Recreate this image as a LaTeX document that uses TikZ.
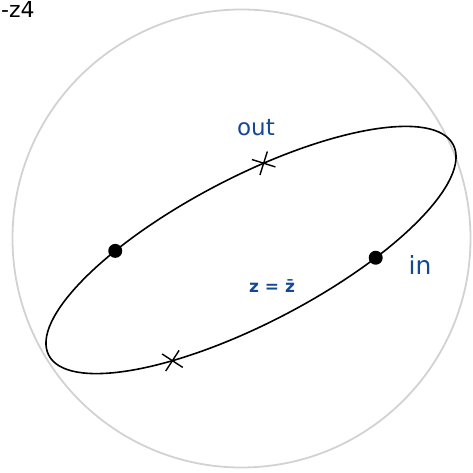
\documentclass[tikz,border=0pt]{standalone}
\usepackage{fontspec}
\setmainfont{DejaVu Sans}
\usetikzlibrary{shapes.misc,calc}
\definecolor{inkblue}{RGB}{20,72,150}
\definecolor{rimgray}{RGB}{210,210,210}
\tikzset{
  rim/.style={draw=rimgray, line width=1.8pt},
  curveline/.style={draw=black, line width=1.6pt},
  dotmark/.style={circle, fill=black, inner sep=0pt, minimum size=14pt},
  crossmark/.style={cross out, draw=black, line width=1.4pt, inner sep=0pt, minimum size=16pt},
  bluelabel/.style={text=inkblue, inner sep=0pt}
}
\begin{document}
\begin{tikzpicture}[x=1pt,y=1pt]
\useasboundingbox (0,0) rectangle (472,473);
\clip (0,0) rectangle (472,473);
% big circle
\node[rim, circle, minimum size=458pt, inner sep=0pt] (disk) at (241.5,234.5) {};
% corner text
\node[anchor=north west, inner sep=1pt, font=\fontsize{22}{22}\selectfont] (corner) at (0,473) {-z4};
% ellipse
\begin{scope}[shift={(251,223)}, rotate=27.5]
  \draw[curveline] (0,0) ellipse [x radius=228, y radius=73];
  \node[dotmark] (pL) at (122:228 and 73) {};
  \node[dotmark] (pR) at (-62:228 and 73) {};
  \node[crossmark, rotate=27.5] (xT) at (77:228 and 73) {};
  \node[crossmark, rotate=12] (xB) at (238:228 and 73) {};
\end{scope}
% labels
\node[bluelabel, font=\fontsize{23}{23}\selectfont] (out) at (256,345) {out};
\node[bluelabel, font=\fontsize{25}{25}\selectfont] (in) at (420,208) {in};
\node[bluelabel, font=\bfseries\fontsize{17}{17}\selectfont] (zz) at (272,187) {z = z̄};
\end{tikzpicture}
\end{document}
